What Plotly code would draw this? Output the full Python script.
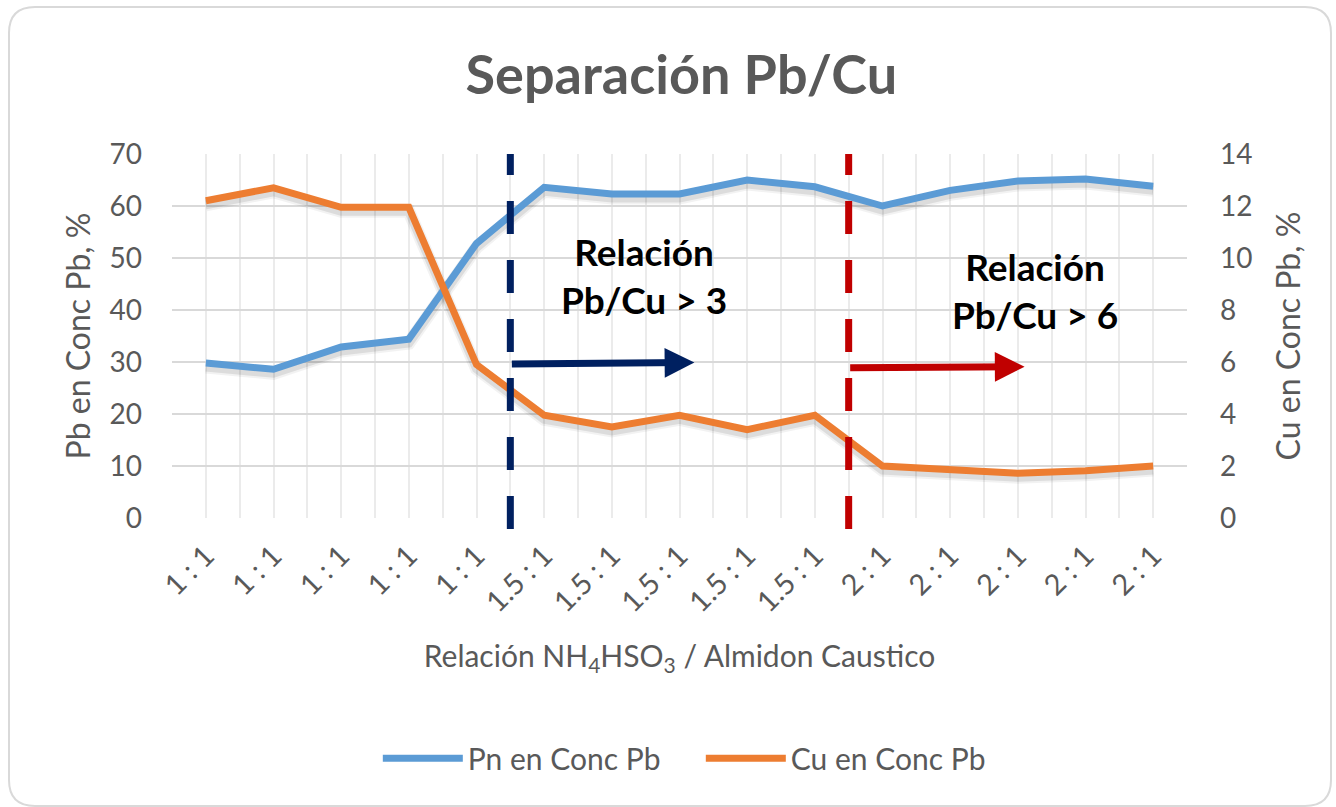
import plotly.graph_objects as go

categories = ["1 : 1"] * 5 + ["1.5 : 1"] * 5 + ["2 : 1"] * 5
pb_values = [29.8, 28.6, 32.9, 34.4, 52.8, 63.6, 62.3, 62.3, 65.0, 63.7, 60.0, 63.0, 64.8, 65.2, 63.8]
cu_values = [12.2, 12.7, 11.95, 11.95, 5.9, 3.95, 3.5, 3.95, 3.4, 3.95, 2.0, 1.85, 1.72, 1.82, 2.0]

series_names = ["Pn en Conc Pb", "Cu en Conc Pb"]
left_ticks = [0, 10, 20, 30, 40, 50, 60, 70]
right_ticks = [0, 2, 4, 6, 8, 10, 12, 14]

FONT = "Lato, Open Sans, sans-serif"
GRAY = "#595959"
x = list(range(len(categories)))

PB_MAX, CU_MAX = 70, 14
PLOT_H = 807 - 154 - 289
SHADOW_PX = 4
pb_shift = SHADOW_PX * PB_MAX / PLOT_H
cu_shift = SHADOW_PX * CU_MAX / PLOT_H

fig = go.Figure()
# soft drop shadows (same data drawn on slightly shifted hidden axes)
for w, a in [(13, 0.05), (9, 0.09)]:
    fig.add_trace(go.Scatter(x=x, y=pb_values, mode="lines", showlegend=False, hoverinfo="skip",
                             line=dict(color=f"rgba(0,0,0,{a})", width=w), yaxis="y"))
    fig.add_trace(go.Scatter(x=x, y=cu_values, mode="lines", showlegend=False, hoverinfo="skip",
                             line=dict(color=f"rgba(0,0,0,{a})", width=w), yaxis="y2"))

fig.add_trace(go.Scatter(x=x, y=pb_values, name=series_names[0], mode="lines",
                         line=dict(color="#5B9BD5", width=7), yaxis="y3"))
fig.add_trace(go.Scatter(x=x, y=cu_values, name=series_names[1], mode="lines",
                         line=dict(color="#ED7D31", width=7), yaxis="y4"))

boundaries = [i - 0.5 for i in range(len(categories) + 1)]

fig.update_layout(
    width=1336, height=807,
    paper_bgcolor="white", plot_bgcolor="white",
    margin=dict(l=172, r=149, t=154, b=289),
    font=dict(family=FONT, color=GRAY, size=22),
    title=dict(text="<b>Separación Pb/Cu</b>", x=0.51, xanchor="center", y=0.907, yanchor="middle",
               font=dict(size=54, color=GRAY, family=FONT)),
    xaxis=dict(range=[-0.5, len(categories) - 0.5], tickvals=x, ticktext=categories, tickangle=-45,
               showgrid=True, gridcolor="#EBEBEB", gridwidth=1.5, zeroline=False,
               showline=False, ticks="", tickfont=dict(size=29, color=GRAY), ticklabelstandoff=14,
               minor=dict(tickvals=boundaries, showgrid=True, gridcolor="#EBEBEB", gridwidth=1.5),
               title=dict(text="Relación NH<sub>4</sub>HSO<sub>3</sub> / Almidon Caustico",
                          font=dict(size=30, color=GRAY), standoff=28)),
    yaxis=dict(range=[pb_shift, PB_MAX + pb_shift], visible=False, showgrid=False, zeroline=False),
    yaxis2=dict(range=[cu_shift, CU_MAX + cu_shift], overlaying="y", visible=False, showgrid=False,
                zeroline=False),
    yaxis3=dict(range=[0, PB_MAX], overlaying="y", side="left", tickvals=left_ticks, showgrid=True,
                gridcolor="#D9D9D9", gridwidth=1.5,
                zeroline=False, showline=False, ticks="", ticklabelstandoff=29,
                tickfont=dict(size=28, color=GRAY),
                title=dict(text="Pb en Conc Pb, %", font=dict(size=32, color=GRAY), standoff=9)),
    yaxis4=dict(range=[0, CU_MAX], tickvals=right_ticks, overlaying="y", side="right", showgrid=False,
                zeroline=False, showline=False, ticks="", ticklabelstandoff=32,
                tickfont=dict(size=28, color=GRAY),
                title=dict(text="Cu en Conc Pb, %", font=dict(size=32, color=GRAY), standoff=26)),
    legend=dict(orientation="h", x=0.521, xanchor="center", y=-0.66, yanchor="middle",
                font=dict(size=30, color=GRAY), itemwidth=80, entrywidth=228,
                bgcolor="rgba(0,0,0,0)"),
    showlegend=True,
)

# group separators (dashed) at the boundaries between ratio groups
sep_colors = ["#002060", "#C00000"]
sep_positions = [4.5, 9.5]
for pos, col in zip(sep_positions, sep_colors):
    fig.add_shape(type="line", xref="x", yref="paper", x0=pos, x1=pos, y1=1.0, y0=-0.03,
                  line=dict(color=col, width=7, dash="33px,26px"), layer="above")

# arrows
arrow_specs = [(4.5, 29.6, 7.22, 29.9, "#002060"), (9.5, 28.9, 12.1, 29.1, "#C00000")]
for x0, y0, x1, y1, col in arrow_specs:
    fig.add_annotation(x=x1, y=y1, ax=x0, ay=y0, xref="x", yref="y3", axref="x", ayref="y3",
                       showarrow=True, arrowhead=2, arrowsize=0.85, arrowwidth=7, arrowcolor=col, text="")

# text labels
fig.add_annotation(x=6.48, y=46.7, xref="x", yref="y3", text="<b>Relación<br>Pb/Cu > 3</b>",
                   showarrow=False, font=dict(size=37, color="black", family=FONT), align="center")
fig.add_annotation(x=12.26, y=43.8, xref="x", yref="y3", text="<b>Relación<br>Pb/Cu > 6</b>",
                   showarrow=False, font=dict(size=37, color="black", family=FONT), align="center")

# rounded chart border
W, H = 1336, 807
def px(xp):
    return (xp - 172) / (W - 172 - 149)
def py(yp):
    return (H - 289 - yp) / (H - 154 - 289)
l, r, t, b, rad = 9, 1331, 7, 806, 26
path = (f"M {px(l+rad)},{py(t)} L {px(r-rad)},{py(t)} Q {px(r)},{py(t)} {px(r)},{py(t+rad)} "
        f"L {px(r)},{py(b-rad)} Q {px(r)},{py(b)} {px(r-rad)},{py(b)} "
        f"L {px(l+rad)},{py(b)} Q {px(l)},{py(b)} {px(l)},{py(b-rad)} "
        f"L {px(l)},{py(t+rad)} Q {px(l)},{py(t)} {px(l+rad)},{py(t)} Z")
fig.add_shape(type="path", xref="paper", yref="paper", path=path,
              line=dict(color="#D9D9D9", width=2), layer="below")

fig.write_html("out.html", config={"displayModeBar": False},
               post_script="document.body.style.margin='0px';")
